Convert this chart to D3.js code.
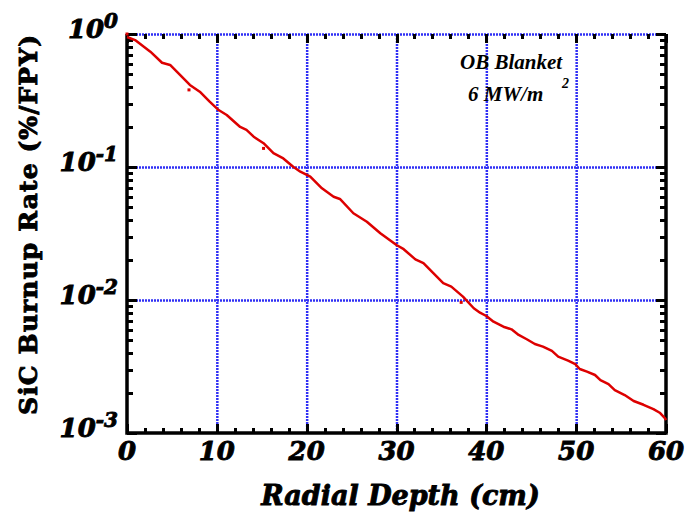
<!DOCTYPE html>
<html>
<head>
<meta charset="utf-8">
<script src="https://cdn.jsdelivr.net/npm/d3@7"></script>
<style>
body{margin:0;background:#fff}
.tk line{shape-rendering:crispEdges}
</style>
</head>
<body>
<div id="chart"></div>
<script>
var w=691, h=512
var pL=127, pR=666, pT=34, pB=433

// data
var depth=[0,0.9,2.6,3.9,4.8,5.9,7.0,8.1,9.2,10.2,11.1,12.6,13.3,14.1,15.2,16.3,17.4,18.5,19.3,20.4,
  21.7,23.0,23.7,25.2,26.7,28.2,30.0,30.8,32.1,33.0,34.1,35.2,36.1,37.4,38.6,39.3,40.0,40.8,41.9,42.8,
  43.6,44.5,45.4,46.3,47.3,48.0,49.1,49.9,50.4,51.2,52.1,52.7,53.6,54.3,55.4,56.4,57.5,58.6,59.3,59.9,60]
var burnup=[0.95,0.90,0.736,0.608,0.585,0.492,0.414,0.368,0.310,0.268,0.246,0.200,0.190,0.169,0.151,0.127,0.116,0.1005,0.0922,0.0846,
  0.0692,0.0598,0.0575,0.0449,0.0388,0.0318,0.0259,0.0241,0.0202,0.0189,0.0159,0.0134,0.0126,0.0106,0.00867,0.00803,0.00758,0.00687,0.0063,0.00602,
  0.00546,0.00507,0.00467,0.00446,0.00414,0.00375,0.0035,0.0033,0.00303,0.00289,0.00273,0.0025,0.00233,0.0021,0.00193,0.00174,0.00163,0.00151,0.00142,0.00129,0.00125]
// stray points
var dotDepth=[0,6.9,15.2,37.2]
var dotBurnup=[1.0,0.38,0.138,0.0096]

var xLabels=[0,10,20,30,40,50,60]
var yLabels=[1,0.1,0.01,0.001]
var yExp=["0","-1","-2","-3"]

var svg=d3.select("#chart")
.append("svg")
.attr("width",w)
.attr("height",h)

var x=d3.scaleLinear().domain([0,60]).range([pL,pR])
var y=d3.scaleLog().domain([0.001,1]).range([pB,pT])

var yMinor=[]
yLabels.forEach(function(d){ if(d<1) for(var k=2;k<10;k++) yMinor.push(d*k) })

// Grid (blue dotted)
svg.append("g")
.attr("class","grid")
.attr("transform","translate(0,"+pB+")")
.call(d3.axisBottom(x).tickValues([10,20,30,40,50]).tickSize(-(pB-pT)).tickFormat(""))
svg.append("g")
.attr("class","grid")
.attr("transform","translate("+pL+",0)")
.call(d3.axisLeft(y).tickValues([1,0.1,0.01]).tickSize(-(pR-pL)).tickFormat(""))
svg.selectAll(".grid .domain").remove()
svg.selectAll(".grid line")
.style("stroke","#3030f5")
.attr("stroke-width",2.5)
.attr("stroke-dasharray","2,1")

// Ticks, pointing inward on all four sides
function ticks(axis,tx,ty){
  svg.append("g").attr("class","tk").attr("transform","translate("+tx+","+ty+")").call(axis)
}
ticks(d3.axisBottom(x).tickValues(xLabels).tickSize(-9).tickFormat(""),0,pB)
ticks(d3.axisBottom(x).tickValues(d3.range(0,61,2)).tickSize(-5).tickFormat(""),0,pB)
ticks(d3.axisTop(x).tickValues(xLabels).tickSize(-9).tickFormat(""),0,pT)
ticks(d3.axisTop(x).tickValues(d3.range(0,61,2)).tickSize(-5).tickFormat(""),0,pT)
ticks(d3.axisLeft(y).tickValues(yLabels).tickSize(-10).tickFormat(""),pL,0)
ticks(d3.axisLeft(y).tickValues(yMinor).tickSize(-6).tickFormat(""),pL,0)
ticks(d3.axisRight(y).tickValues(yLabels).tickSize(-10).tickFormat(""),pR,0)
ticks(d3.axisRight(y).tickValues(yMinor).tickSize(-6).tickFormat(""),pR,0)
svg.selectAll(".tk .domain").remove()
svg.selectAll(".tk line").attr("stroke","#000").attr("stroke-width",3)

// frame (top edge is the blue grid line)
svg.append("path")
.attr("d","M"+pL+" "+pT+" L"+pL+" "+pB+" L"+pR+" "+pB+" L"+pR+" "+pT)
.attr("fill","none")
.attr("stroke","#000")
.attr("stroke-width",3.5)

// curve
var line=d3.line().x(function(d,i){return x(depth[i])}).y(function(d){return y(d)})
svg.append("path")
.attr("d",line(burnup))
.attr("fill","none")
.attr("stroke","#dd0000")
.attr("stroke-width",2.5)
.attr("stroke-linejoin","round")

svg.selectAll(".dot")
.data(dotBurnup)
.enter().append("rect")
.attr("x",function(d,i){return x(dotDepth[i])-1.5})
.attr("y",function(d){return y(d)-1.5})
.attr("width",3)
.attr("height",3)
.attr("fill","#dd0000")

// tick labels
var tickFont="'DejaVu Serif', serif"
function heavy(sel){
  sel.attr("font-family",tickFont)
  .attr("font-weight","bold")
  .attr("stroke","#000")
  .attr("stroke-width",0.9)
}
svg.selectAll(".xl")
.data(xLabels)
.enter().append("text")
.attr("x",function(d){return x(d)})
.attr("y",pB+27)
.attr("text-anchor","middle")
.attr("font-style","italic")
.attr("font-size",26)
.call(heavy)
.text(function(d){return d})

var yl=svg.selectAll(".yl")
.data(yLabels)
.enter().append("text")
.attr("x",pL-9)
.attr("y",function(d){return y(d)+4})
.attr("text-anchor","end")
.attr("font-style","italic")
.attr("font-size",26)
.call(heavy)
yl.append("tspan").text("10")
yl.append("tspan")
.attr("dy",-10)
.attr("font-size",20)
.text(function(d,i){return yExp[i]})

// axis titles
svg.append("text")
.attr("x",(pL+pR)/2+4)
.attr("y",505)
.attr("text-anchor","middle")
.attr("font-style","italic")
.attr("font-size",27)
.call(heavy)
.text("Radial Depth (cm)")

svg.append("text")
.attr("transform","translate(37,225) rotate(-90)")
.attr("text-anchor","middle")
.attr("font-size",25)
.call(heavy)
.attr("textLength",380)
.text("SiC Burnup Rate (%/FPY)")

// annotation
var note="'Liberation Serif', 'Times New Roman', serif"
svg.append("text")
.attr("x",460)
.attr("y",69)
.attr("font-family",note)
.attr("font-weight","bold")
.attr("font-style","italic")
.attr("font-size",21)
.text("OB Blanket")
svg.append("text")
.attr("x",468)
.attr("y",101)
.attr("font-family",note)
.attr("font-weight","bold")
.attr("font-style","italic")
.attr("font-size",21)
.text("6 MW/m")
svg.append("text")
.attr("x",562)
.attr("y",88)
.attr("font-family",note)
.attr("font-weight","bold")
.attr("font-style","italic")
.attr("font-size",14)
.text("2")
</script>
</body>
</html>
